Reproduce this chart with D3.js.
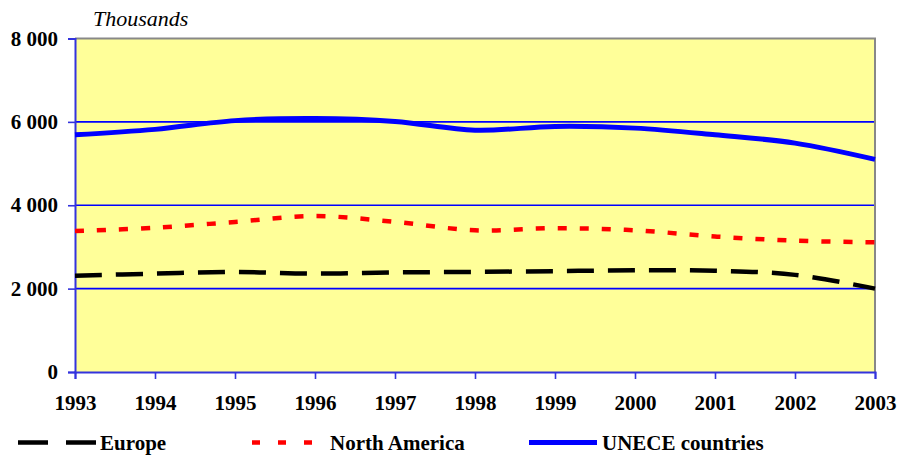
<!DOCTYPE html>
<html><head><meta charset="utf-8">
<script src="https://cdn.jsdelivr.net/npm/d3@7"></script>
<style>body{margin:0;background:#fff;}svg{display:block;} text{font-family:"Liberation Serif","Times New Roman","DejaVu Serif",serif;}</style>
</head><body>
<script>
const years = [1993,1994,1995,1996,1997,1998,1999,2000,2001,2002,2003];
const europe = [2310,2360,2400,2360,2390,2400,2420,2440,2430,2330,2000];
const northAmerica = [3380,3460,3600,3740,3600,3400,3450,3400,3250,3150,3110];
const unece = [5690,5820,6030,6080,6010,5800,5890,5850,5690,5490,5100];
const yTicks = [0,2000,4000,6000,8000];
const seriesNames = ["Europe","North America","UNECE countries"];

const W=900,H=459;
const svg=d3.select("body").append("svg").attr("width",W).attr("height",H);
const L=75,R=875,T=38.5,B=372;
const x=d3.scaleLinear().domain([1993,2003]).range([L,R]);
const y=d3.scaleLinear().domain([0,8000]).range([B,T]);
const font='"Liberation Serif","Times New Roman","DejaVu Serif",serif';

svg.append("rect").attr("x",L).attr("y",T).attr("width",R-L).attr("height",B-T).attr("fill","#FFFF99");

svg.append("g").selectAll("line").data(yTicks.filter(d=>d>0&&d<8000)).join("line")
  .attr("x1",L).attr("x2",R).attr("y1",d=>y(d)).attr("y2",d=>y(d))
  .attr("stroke","#0000FF").attr("stroke-width",1.6);

svg.append("path").attr("d",`M${L},${T}H${R}V${B}`).attr("fill","none").attr("stroke","#888").attr("stroke-width",2);

const yAxis=d3.axisLeft(y).tickValues(yTicks).tickSize(7).tickPadding(10)
  .tickFormat(d=>d3.format(",")(d).replace(",", " "));
const gy=svg.append("g").attr("transform",`translate(${L},0)`).call(yAxis);
gy.attr("font-family",null);
gy.select(".domain").attr("stroke","#3333dd").attr("stroke-width",2);
gy.selectAll(".tick line").attr("stroke","#3333dd").attr("stroke-width",1.6);
gy.selectAll("text").style("font-family",font).style("font-weight","bold").style("font-size","21px").attr("fill","#000");

const xAxis=d3.axisBottom(x).tickValues(years).tickFormat(d3.format("d")).tickSize(7).tickPadding(16);
const gx=svg.append("g").attr("transform",`translate(0,${B})`).call(xAxis);
gx.attr("font-family",null);
gx.select(".domain").attr("stroke","#3333dd").attr("stroke-width",2);
gx.selectAll(".tick line").attr("stroke","#3333dd").attr("stroke-width",1.6);
gx.selectAll("text").style("font-family",font).style("font-weight","bold").style("font-size","21px").attr("fill","#000");

svg.append("text").attr("x",93).attr("y",26).style("font-family",font).style("font-style","italic")
  .style("font-size","22px").text("Thousands");

const line=d3.line().x((d,i)=>x(years[i])).y(d=>y(d)).curve(d3.curveCatmullRom.alpha(0.5));
const styles=[
  {data:europe,color:"#000",w:4.5,dash:"27,14",ldash:"30,18"},
  {data:northAmerica,color:"#FF0000",w:4.5,dash:"9,13",ldash:"8,18"},
  {data:unece,color:"#0000FF",w:5,dash:null,ldash:null}
];
styles.forEach(s=>{
  svg.append("path").attr("d",line(s.data)).attr("fill","none").attr("stroke",s.color)
    .attr("stroke-width",s.w).attr("stroke-dasharray",s.dash);
});

const legX=[18,252,529], legTX=[100,330,602], legEnd=[97,314,597];
seriesNames.forEach((n,i)=>{
  const s=styles[i];
  svg.append("line").attr("x1",legX[i]).attr("x2",legEnd[i]).attr("y1",442.5).attr("y2",442.5)
    .attr("stroke",s.color).attr("stroke-width",s.w).attr("stroke-dasharray",s.ldash);
  svg.append("text").attr("x",legTX[i]).attr("y",450).style("font-family",font).style("font-weight","bold")
    .style("font-size","21px").text(n);
});
</script>
</body></html>
